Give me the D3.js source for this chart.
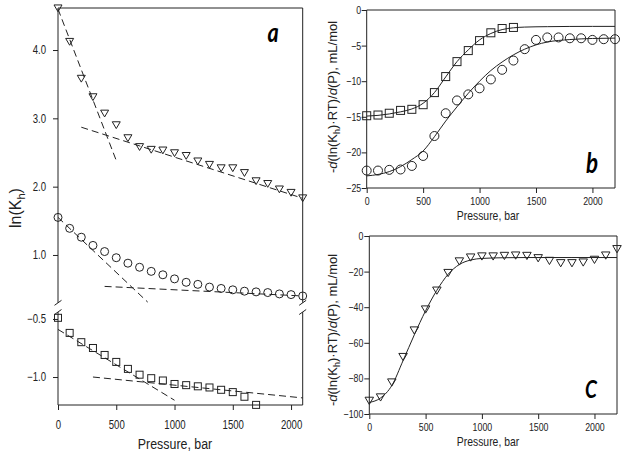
<!DOCTYPE html>
<html><head><meta charset="utf-8">
<script src="https://cdn.jsdelivr.net/npm/d3@7/dist/d3.min.js"></script>
<style>body{margin:0;background:#fff}svg{display:block}</style>
</head><body>
<svg id="chart" width="625" height="457"></svg>
<script>
// ---------- data ----------
const pressA = [0,100,200,300,400,500,600,700,800,900,1000,1100,1200,1300,1400,1500,1600,1700,1800,1900,2000,2100];
const triA  = [4.61,4.12,3.58,3.31,3.07,2.90,2.71,2.58,2.54,2.53,2.49,2.45,2.37,2.32,2.27,2.27,2.20,2.08,2.04,1.96,1.91,1.83];
const circA = [1.55,1.39,1.26,1.14,1.05,0.96,0.88,0.82,0.76,0.71,0.65,0.60,0.57,0.53,0.51,0.49,0.47,0.46,0.45,0.43,0.42,0.40];
const sqA   = [-0.49,-0.62,-0.70,-0.75,-0.81,-0.87,-0.93,-0.98,-1.01,-1.03,-1.06,-1.07,-1.08,-1.09,-1.11,-1.13,-1.17,-1.24];
// dashed linear fits in panel a: [pressure, value] endpoints
const triFit1  = [[0,4.60],[505,2.36]];
const triFit2  = [[200,2.87],[2100,1.83]];
const circFit1 = [[0,1.55],[770,0.31]];
const circFit2 = [[400,0.54],[2100,0.40]];
const sqFit1   = [[0,-0.59],[1000,-1.20]];
const sqFit2   = [[300,-1.00],[2100,-1.18]];

const pressB = [0,100,200,300,400,500,600,700,800,900,1000,1100,1200,1300,1400,1500,1600,1700,1800,1900,2000,2100,2200];
const sqB   = [-14.85,-14.75,-14.5,-14.1,-13.95,-13.3,-11.6,-9.35,-7.25,-5.7,-4.3,-3.2,-2.6,-2.45];
const circB = [-22.55,-22.55,-22.45,-22.4,-21.9,-20.5,-17.7,-14.5,-12.7,-11.85,-11.0,-9.75,-8.4,-7.1,-5.5,-4.2,-3.85,-3.85,-3.97,-3.97,-4.2,-4.1,-4.1];
const fitPB  = [0,100,200,300,400,500,600,700,800,900,1000,1100,1200,1300,1400,1500,1600,1800,2000,2200];
const fitSqB = [-14.9,-14.8,-14.6,-14.3,-13.9,-13.1,-11.6,-9.4,-7.25,-5.6,-4.2,-3.3,-2.75,-2.5,-2.4,-2.36,-2.34,-2.31,-2.3,-2.3];
const fitCiB = [-23.3,-23.1,-22.7,-22.0,-21.0,-19.8,-17.8,-15.6,-13.6,-11.7,-10.0,-8.5,-7.3,-6.3,-5.5,-4.9,-4.5,-4.15,-4.0,-3.95];

const triC  = [-92.6,-90.7,-82.3,-68,-53.1,-41.3,-30.7,-20.8,-14.3,-12.1,-11.5,-11.5,-11.2,-11.0,-11.2,-12.5,-14.0,-15.3,-15.3,-14.9,-13.4,-11.0,-7.4];
const fitPC = [0,100,200,300,400,500,600,700,800,900,1000,1200,1400,1800,2200];
const fitC  = [-93.5,-91,-84,-70,-55.5,-42,-30.5,-21.5,-16,-13.5,-12.6,-12.2,-12.1,-12.1,-12.1];

const xTicks = [0,500,1000,1500,2000];
const yTicksATop = [1,2,3,4];
const yTicksABot = [-1.0,-0.5];
const yTicksB = [0,-5,-10,-15,-20,-25];
const yTicksC = [0,-20,-40,-60,-80,-100];

// ---------- helpers ----------
const FONT = "'Liberation Sans', Arial, sans-serif";
const SX = 0.8;
const svg = d3.select("#chart");
const INK = "#222";

function leftAxis(g, scale, ticks, fmt, off, fs) {
  const a = g.call(d3.axisLeft(scale).tickValues(ticks).tickFormat(fmt).tickSize(5).tickSizeOuter(0));
  a.select(".domain").remove();
  a.selectAll(".tick line").attr("stroke", INK);
  a.selectAll(".tick text").attr("x", null)
    .attr("transform", `translate(${-off},0) scale(${SX},1)`)
    .attr("font-family", FONT).attr("font-size", fs).attr("fill", INK);
}
function bottomAxis(g, scale, ticks, off, fs) {
  const a = g.call(d3.axisBottom(scale).tickValues(ticks).tickFormat(d3.format("d")).tickSize(5).tickSizeOuter(0));
  a.select(".domain").remove();
  a.selectAll(".tick line").attr("stroke", INK);
  a.selectAll(".tick text").attr("y", null)
    .attr("transform", `translate(0,${off}) scale(${SX},1)`)
    .attr("font-family", FONT).attr("font-size", fs).attr("fill", INK);
}
function markers(g, pts, shape, s) {
  const sel = g.append("g").attr("fill", "none").attr("stroke", INK).attr("stroke-width", 1);
  pts.forEach(([px, py]) => {
    if (shape === "circle") sel.append("circle").attr("cx", px).attr("cy", py).attr("r", s / 2);
    else if (shape === "square") sel.append("rect").attr("x", px - s / 2).attr("y", py - s / 2).attr("width", s).attr("height", s);
    else {
      const h = s * 0.85;
      sel.append("path").attr("d", `M${px - s / 2},${py - h / 2}L${px + s / 2},${py - h / 2}L${px},${py + h / 2}Z`);
    }
  });
}
function hText(x, y, str, fs, opts = {}) {
  return svg.append("text").attr("transform", `translate(${x},${y}) scale(${SX},1)`)
    .attr("text-anchor", opts.anchor || "middle")
    .attr("font-family", opts.family || FONT).attr("font-size", fs)
    .attr("font-weight", opts.weight || "normal").attr("font-style", opts.style || "normal")
    .attr("fill", opts.fill || INK).text(str);
}
function frameLine(x1, y1, x2, y2) {
  svg.append("line").attr("x1", x1).attr("y1", y1).attr("x2", x2).attr("y2", y2)
    .attr("stroke", INK).attr("stroke-width", 1);
}

// ---------- panel a ----------
const xA = d3.scaleLinear().domain([0, 2100]).range([58, 302.7]);
const yAT = d3.scaleLinear().domain([0.3, 4.615]).range([302.8, 8]);
const yAB = d3.scaleLinear().domain([-1.241, -0.44]).range([405, 312]);

const gA = svg.append("g");
leftAxis(gA.append("g").attr("transform", "translate(58,0)"), yAT, yTicksATop, d3.format(".1f"), 12, 12);
leftAxis(gA.append("g").attr("transform", "translate(58,0)"), yAB, yTicksABot, d3.format(".1f"), 12, 12);
bottomAxis(gA.append("g").attr("transform", "translate(0,405)"), xA, xTicks, 15, 12);

// frame with axis break
frameLine(58, 8, 302.7, 8);
frameLine(58, 405, 302.7, 405);
[58, 302.7].forEach(x => {
  frameLine(x, 8, x, 302.8);
  frameLine(x, 312, x, 405);
  [302.8, 312].forEach(y => frameLine(x - 3.5, y + 2.5, x + 3.5, y - 2.5));
});

const dashLine = (fit, ys) => gA.append("path")
  .attr("d", d3.line().x(d => xA(d[0])).y(d => ys(d[1]))(fit))
  .attr("fill", "none").attr("stroke", INK).attr("stroke-width", 1).attr("stroke-dasharray", "7,4");
dashLine(triFit1, yAT); dashLine(triFit2, yAT);
dashLine(circFit1, yAT); dashLine(circFit2, yAT);
dashLine(sqFit1, yAB); dashLine(sqFit2, yAB);

markers(gA, triA.map((v, i) => [xA(pressA[i]), yAT(v)]), "tri", 8);
markers(gA, circA.map((v, i) => [xA(pressA[i]), yAT(v)]), "circle", 8);
markers(gA, sqA.map((v, i) => [xA(pressA[i]), yAB(v)]), "square", 7);

hText(175, 449, "Pressure, bar", 15.5);
const ylA = svg.append("text").attr("transform", "translate(21,208) rotate(-90)")
  .attr("text-anchor", "middle").attr("font-family", FONT).attr("font-size", 16).attr("fill", INK);
ylA.append("tspan").text("ln(K");
ylA.append("tspan").attr("font-size", 11).attr("dy", 4).text("h");
ylA.append("tspan").attr("dy", -4).text(")");
hText(273, 42, "a", 27, {family: "Lato, 'Open Sans', sans-serif", weight: "bold", style: "italic", fill: "#000"});

// ---------- panel b ----------
const xB = d3.scaleLinear().domain([0, 2200]).range([366.7, 615]);
const yB = d3.scaleLinear().domain([-25, 0]).range([188, 10]);
const gB = svg.append("g");
leftAxis(gB.append("g").attr("transform", "translate(366.7,0)"), yB, yTicksB, d3.format("d"), 5.5, 11);
bottomAxis(gB.append("g").attr("transform", "translate(0,188)"), xB, xTicks, 9, 11);
frameLine(366.7, 10, 615, 10); frameLine(366.7, 188, 615, 188);
frameLine(366.7, 10, 366.7, 188); frameLine(615, 10, 615, 188);

const lineB = d3.line().curve(d3.curveMonotoneX);
gB.append("path").attr("d", lineB(fitPB.map((p, i) => [xB(p), yB(fitSqB[i])])))
  .attr("fill", "none").attr("stroke", INK).attr("stroke-width", 1);
gB.append("path").attr("d", lineB(fitPB.map((p, i) => [xB(p), yB(fitCiB[i])])))
  .attr("fill", "none").attr("stroke", INK).attr("stroke-width", 1);
markers(gB, sqB.map((v, i) => [xB(pressB[i]), yB(v)]), "square", 8);
markers(gB, circB.map((v, i) => [xB(pressB[i]), yB(v)]), "circle", 9);

hText(488, 220, "Pressure, bar", 13);
function dLabel(x, y) {
  const t = svg.append("text").attr("transform", `translate(${x},${y}) rotate(-90)`)
    .attr("text-anchor", "middle").attr("font-family", FONT).attr("font-size", 13).attr("fill", INK);
  t.append("tspan").text("-");
  t.append("tspan").attr("font-style", "italic").text("d");
  t.append("tspan").text("(ln(K");
  t.append("tspan").attr("font-size", 9).attr("dy", 3).text("h");
  t.append("tspan").attr("dy", -3).text(")·RT)/");
  t.append("tspan").attr("font-style", "italic").text("d");
  t.append("tspan").text("(P), mL/mol");
}
dLabel(337, 97);
hText(592, 173, "b", 28, {family: "Lato, 'Open Sans', sans-serif", weight: "bold", style: "italic", fill: "#000"});

// ---------- panel c ----------
const xC = d3.scaleLinear().domain([0, 2200]).range([369.3, 617]);
const yC = d3.scaleLinear().domain([-100, 0]).range([414, 236]);
const gC = svg.append("g");
leftAxis(gC.append("g").attr("transform", "translate(369.3,0)"), yC, yTicksC, d3.format("d"), 6, 11);
bottomAxis(gC.append("g").attr("transform", "translate(0,414)"), xC, xTicks, 9, 11);
frameLine(369.3, 236, 617, 236); frameLine(369.3, 414, 617, 414);
frameLine(369.3, 236, 369.3, 414); frameLine(617, 236, 617, 414);

gC.append("path").attr("d", lineB(fitPC.map((p, i) => [xC(p), yC(fitC[i])])))
  .attr("fill", "none").attr("stroke", INK).attr("stroke-width", 1);
markers(gC, triC.map((v, i) => [xC(pressB[i]), yC(v)]), "tri", 8.5);

hText(488, 446, "Pressure, bar", 13);
dLabel(337, 330);
hText(591, 398, "C", 24, {family: "Lato, 'Open Sans', sans-serif", weight: "bold", style: "italic", fill: "#000"});
</script>
</body></html>
